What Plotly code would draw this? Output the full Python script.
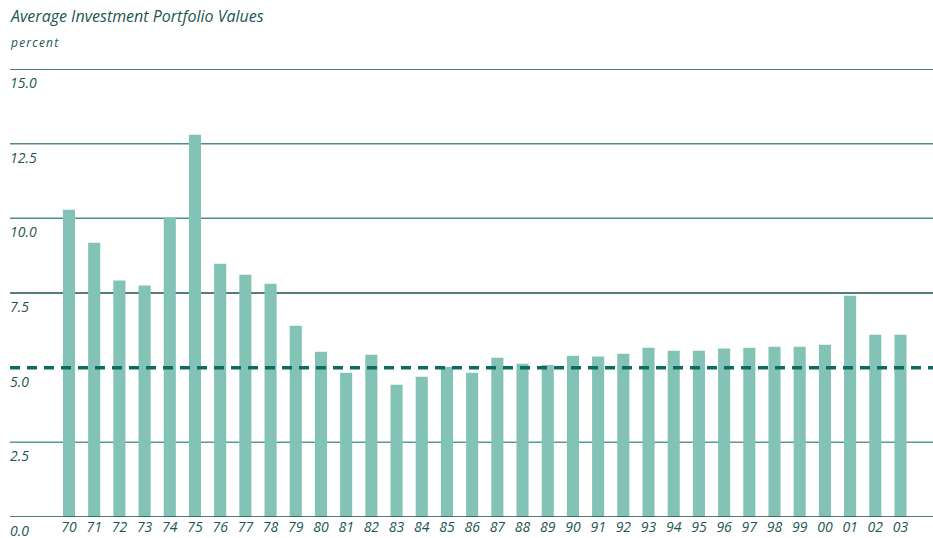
import plotly.graph_objects as go

years = ["70","71","72","73","74","75","76","77","78","79",
         "80","81","82","83","84","85","86","87","88","89",
         "90","91","92","93","94","95","96","97","98","99",
         "00","01","02","03"]
values = [10.29, 9.18, 7.92, 7.75, 10.02, 12.80, 8.48, 8.11, 7.81, 6.40,
          5.53, 4.83, 5.43, 4.43, 4.70, 5.02, 4.83, 5.33, 5.13, 5.09,
          5.40, 5.37, 5.47, 5.67, 5.57, 5.57, 5.64, 5.67, 5.70, 5.70,
          5.77, 7.41, 6.10, 6.10]
y_ticks = [0.0, 2.5, 5.0, 7.5, 10.0, 12.5, 15.0]
y_tick_labels = ["0.0", "2.5", "5.0", "7.5", "10.0", "12.5", "15.0"]
grid_values = [0.0, 2.5, 7.5, 10.0, 12.5, 15.0]
grid_colors = ["#1b524c", "#5b9995", "#1b524c", "#4f8f8b", "#4f8f8b", "#1b524c"]
reference_level = 5.0

TEXT = "#1b5752"
FONT = "Open Sans"

fig = go.Figure()
fig.add_trace(go.Bar(x=years, y=values, marker=dict(color="#83c3b5", line=dict(width=0)),
                     width=0.48, hoverinfo="x+y"))

shapes = []
for g, c in zip(grid_values, grid_colors):
    shapes.append(dict(type="line", xref="paper", x0=0, x1=1.02, yref="y", y0=g, y1=g,
                       line=dict(color=c, width=1.5), layer="above" if g == 0 else "below"))
shapes.append(dict(type="line", xref="paper", x0=0, x1=1.02, yref="y", y0=reference_level, y1=reference_level,
                   line=dict(color="#0d6b63", width=3.5, dash="10px,7px"), layer="above"))

annotations = []
for v, t in zip(y_ticks, y_tick_labels):
    annotations.append(dict(xref="paper", x=0, yref="y", y=v, text=t, showarrow=False,
                            xanchor="left", yanchor="middle", yshift=-13, xshift=-2, height=14,
                            font=dict(family=FONT, size=14, color=TEXT, style="italic", weight=500)))
annotations.append(dict(xref="paper", x=0, yref="paper", y=1.118, text="Average Investment Portfolio Values",
                        showarrow=False, xanchor="left", yanchor="middle", xshift=-2,
                        font=dict(family=FONT, size=16, color=TEXT, style="italic", weight=500)))
annotations.append(dict(xref="paper", x=0, yref="paper", y=1.06, text="p e r c e n t".replace(" ", "\u200a"),
                        showarrow=False, xanchor="left", yanchor="middle", xshift=-2,
                        font=dict(family=FONT, size=12, color=TEXT, style="italic")))

fig.update_layout(
    width=933, height=538,
    margin=dict(l=10, r=0, t=69, b=21),
    plot_bgcolor="white", paper_bgcolor="white",
    showlegend=False,
    shapes=shapes, annotations=annotations,
    xaxis=dict(type="category", range=[-2.341, 34.29], showgrid=False, zeroline=False,
               showline=False, ticks="", ticklen=0,
               tickfont=dict(family=FONT, size=14, color=TEXT, style="italic", weight=500)),
    yaxis=dict(range=[0, 15], showgrid=False, zeroline=False, showline=False,
               showticklabels=False, fixedrange=True),
)

fig.write_html("out.html", config={"displayModeBar": False},
               post_script="document.body.style.margin='0px';document.body.style.overflow='hidden';")
